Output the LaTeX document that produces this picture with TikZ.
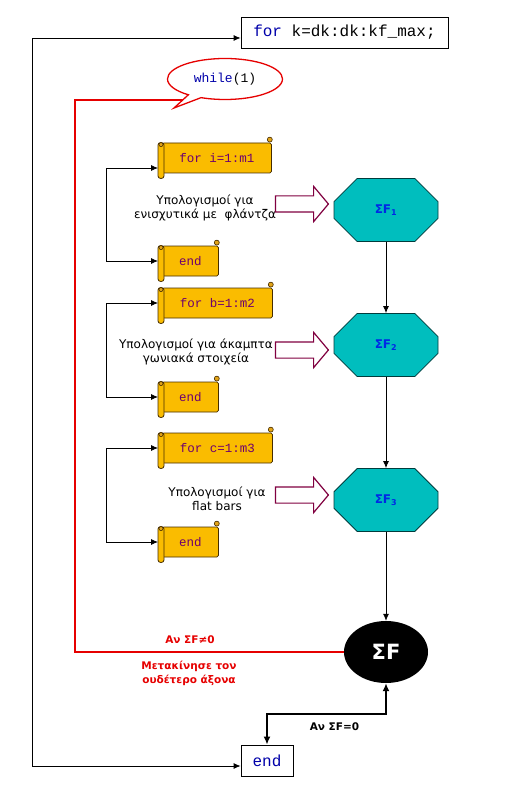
\documentclass[tikz,border=0pt]{standalone}
\usepackage{fontspec}
\setmainfont{DejaVu Sans}
\newfontfamily\codefont{Liberation Mono}
\usetikzlibrary{shapes.geometric,shapes.misc,shapes.arrows,shapes.callouts,arrows.meta}

\definecolor{scrollfill}{RGB}{250,188,0}
\definecolor{scrollline}{RGB}{70,45,0}
\definecolor{scrolltext}{RGB}{110,0,110}
\definecolor{octfill}{RGB}{0,190,190}
\definecolor{octline}{RGB}{0,60,60}
\definecolor{octtext}{RGB}{0,40,230}
\definecolor{arrowline}{RGB}{128,0,64}
\definecolor{codeblue}{RGB}{0,0,170}
\definecolor{loopred}{RGB}{230,0,0}

\tikzset{
  flow/.style={line width=0.8pt},
  codebox/.style={draw, line width=0.8pt, fill=white, inner sep=0pt},
  scroll/.style={draw=scrollline, fill=scrollfill, line width=0.8pt, rectangle, rounded corners=1.5pt,
    minimum height=30, inner sep=0pt, anchor=west, text=scrolltext,
    font=\codefont\fontsize{12.5}{14}\selectfont},
  oct/.style={chamfered rectangle, chamfered rectangle xsep=17pt, chamfered rectangle ysep=17pt,
    draw=octline, fill=octfill, line width=0.8pt, minimum width=104, minimum height=63,
    text=octtext, font=\bfseries\fontsize{12}{14}\selectfont},
  hollow/.style={single arrow, draw=arrowline, fill=white, line width=1.2pt, minimum height=53,
    minimum width=34, single arrow head extend=9.5pt, single arrow tip angle=100,
    inner xsep=0pt, inner ysep=7.5pt, text height=0pt, text depth=0pt},
  calctext/.style={align=center, font=\fontsize{12}{14.5}\selectfont},
  redtext/.style={align=center, text=loopred, font=\bfseries\fontsize{10.5}{14}\selectfont},
}

% roll and curls of a scroll node
\newcommand{\scrollroll}[1]{%
  \draw[draw=scrollline, fill=scrollfill, line width=0.8pt, rounded corners=2.5pt]
    ([xshift=-4pt]#1.north west) rectangle ([xshift=2pt,yshift=-5pt]#1.south west);
  \draw[draw=scrollline, fill=scrollfill!60!brown, line width=0.6pt] ([xshift=-1pt,yshift=-2pt]#1.north west) circle (2);
  \draw[draw=scrollline, fill=scrollfill!60!brown, line width=0.6pt] ([xshift=-2pt,yshift=3pt]#1.north east) circle (2.5);
}

\begin{document}
\begin{tikzpicture}[x=1pt,y=-1pt,>={Latex[length=7pt,width=6pt]}]
\useasboundingbox (0,0) rectangle (514,794);

% outer loop
\node[codebox, minimum width=207, minimum height=31, font=\codefont\fontsize{16}{18}\selectfont] (fork) at (344.5,32.5) {\textcolor{codeblue}{for} k=dk:dk:kf\_max;};
\node[codebox, minimum width=52, minimum height=31, font=\codefont\fontsize{16}{18}\selectfont] (endk) at (267,760.5) {\textcolor{codeblue}{end}};
\draw[flow,<->] ([yshift=-5.5pt]endk.west) -- ++(-208,0) |- ([yshift=-5.5pt]fork.west);

% inner loops
\node[scroll, minimum width=109] (fori) at (162,158) {for i=1:m1};
\node[scroll, minimum width=56] (endi) at (162,261) {end};
\node[scroll, minimum width=110] (forb) at (162,303) {for b=1:m2};
\node[scroll, minimum width=56] (endb) at (162,397) {end};
\node[scroll, minimum width=110] (forc) at (162,448) {for c=1:m3};
\node[scroll, minimum width=56] (endc) at (162,542) {end};
\foreach \s in {fori,endi,forb,endb,forc,endc} {\scrollroll{\s}}

\draw[flow,<->] ([xshift=-4pt,yshift=-10pt]fori.west) -- ++(-52,0) |- ([xshift=-4pt]endi.west);
\draw[flow,<->] ([xshift=-4pt]forb.west) -- ++(-52,0) |- ([xshift=-4pt]endb.west);
\draw[flow,<->] ([xshift=-4pt]forc.west) -- ++(-52,0) |- ([xshift=-4pt]endc.west);

% calculations
\node[calctext] (txt1) at (205,208) {Υπολογισμοί για\\ενισχυτικά με~ φλάντζα};
\node[calctext] (txt2) at (196,352) {Υπολογισμοί για άκαμπτα\\γωνιακά στοιχεία};
\node[calctext] (txt3) at (217,499) {Υπολογισμοί για\\flat bars};
\node[hollow] (h1) at (298.5,204) {};
\node[hollow] (h2) at (298.5,350) {};
\node[hollow] (h3) at (298.5,495) {};

% sums
\node[oct] (sf1) at (386,210) {ΣF\textsubscript{1}};
\node[oct] (sf2) at (386,345) {ΣF\textsubscript{2}};
\node[oct] (sf3) at (386,500) {ΣF\textsubscript{3}};
\node[ellipse, fill=black, minimum width=84, minimum height=62, inner sep=0pt, text=white, font=\bfseries\fontsize{21}{24}\selectfont] (sf) at (386,652) {ΣF};
\draw[flow,->] (sf1.south) -- (sf2.north);
\draw[flow,->] (sf2.south) -- (sf3.north);
\draw[flow,->] (sf3.south) -- (sf.north);

% test
\draw[<->, line width=1.8pt, >={Latex[length=8pt,width=7pt]}] (sf.south) -- ++(0,31) -| (endk.north);
\node[redtext, text=black] (eq) at (334.5,727) {Αν ΣF=0};

\coordinate (redtop) at (75,100);
\coordinate (whileend) at (184,100);
\draw[loopred, line width=1.3pt] (sf.west) -| (redtop) -- (whileend);
\node[redtext] (neq) at (190,640) {Αν ΣF≠0};
\node[redtext] (move) at (189,673) {Μετακίνησε τον\\ουδέτερο άξονα};
\node[ellipse callout, draw=loopred, fill=white, line width=1.3pt, minimum width=115, minimum height=41,
  callout absolute pointer={(174,108)}, font=\codefont\fontsize{13}{15}\selectfont] (while) at (225,79) {\textcolor{codeblue}{while}(1)};

\end{tikzpicture}
\end{document}
